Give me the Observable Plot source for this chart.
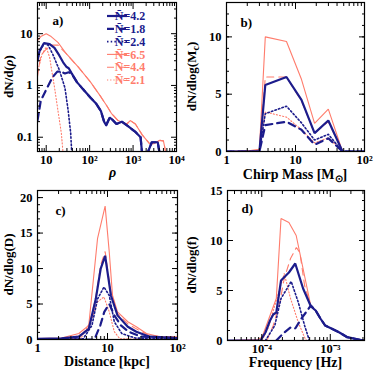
<!DOCTYPE html>
<html><head><meta charset="utf-8">
<script src="https://cdn.jsdelivr.net/npm/d3@7"></script>
<script src="https://cdn.jsdelivr.net/npm/@observablehq/plot@0.6"></script>
<style>
html,body{margin:0;padding:0;background:#fff;}
#fig{position:relative;width:374px;height:371px;background:#fff;}
#fig svg{position:absolute;overflow:visible;}
</style></head><body><div id="fig"></div>
<script>
const BLUE = "#1c1c8c", RED = "#ff7c6c";
const legendLabels = ["N\u0304=4.2","N\u0304=1.8","N\u0304=2.4","N\u0304=6.5","N\u0304=4.4","N\u0304=2.1"];

// Panel a: SNR rho
const rhoBlueSolid = [[6.3,3.0],[7,4.6],[8.9,6.6],[12,6.3],[15.5,5.3],[20,3.8],[24.5,2.8],[29,2.3],[33,2.15],[38,1.75],[51,1.16],[70,0.85],[105,0.58],[140,0.45],[182,0.32],[215,0.2],[240,0.17],[290,0.24],[330,0.22],[415,0.18],[550,0.2],[790,0.16],[1150,0.125],[1490,0.1],[1700,0.03],[2700,0.08],[3700,0.08],[4500,0.03]];
const rhoBlueDashed = [[6.3,0.21],[7.5,0.51],[10.7,0.93],[14,1.45],[18,1.85],[22,1.85],[27,1.7],[33,1.8],[38,1.7],[51,1.16],[70,0.85],[105,0.58],[140,0.45],[182,0.32],[215,0.2],[240,0.17],[290,0.24],[330,0.22],[415,0.18],[550,0.2],[790,0.16],[1150,0.125],[1490,0.1],[1700,0.03],[2700,0.08],[3700,0.08],[4500,0.03]];
const rhoBlueDotted = [[6.3,3.0],[7,4.5],[9,6.5],[11,6.0],[14,4.1],[20,2.0],[27,0.9],[32,0.33],[36.6,0.12],[40,0.03]];
const rhoRedSolid = [[6.3,7.3],[7.5,8.8],[10,10],[13,8.8],[18.6,6.8],[29,4.1],[55,2.25],[105,1.16],[182,0.6],[250,0.4],[316,0.29],[450,0.21],[600,0.19],[720,0.18],[860,0.21],[1130,0.18],[1640,0.11],[2370,0.076],[3000,0.075],[4100,0.087],[5000,0.085],[6000,0.04]];
const rhoRedDashed = [[6.3,1.5],[7.5,3.8],[10,5.0],[13,6.0],[18.6,6.0],[29,4.1],[55,2.25],[105,1.16],[182,0.6],[250,0.4],[316,0.29],[450,0.21],[600,0.19],[720,0.18],[860,0.21],[1130,0.18],[1640,0.11],[2370,0.076],[3000,0.075],[4100,0.087],[5000,0.085],[6000,0.04]];
const rhoRedDotted = [[6.5,2.0],[8,4.0],[10,5.5],[12,3.5],[13,2.25],[15.5,0.93],[18.6,0.33],[22.3,0.12],[25,0.04]];

// Panel b: chirp mass
const mcBlueSolid = [[1,0],[3,0],[3.65,5.8],[7.4,6.5],[12.2,4.5],[18.9,1.6],[29.9,2.7],[48,0],[100,0]];
const mcBlueDashed = [[1,0],[3,0],[3.65,2.3],[7.4,2.6],[12.2,1.9],[18.9,0.6],[29.9,1.15],[48,0],[100,0]];
const mcBlueDotted = [[1,0],[3,0],[3.65,3.3],[7.4,3.95],[12.2,2.5],[18.9,1.0],[29.9,1.5],[48,0],[100,0]];
const mcRedSolid = [[1,0],[2,0.05],[3,0.2],[3.65,10],[7.4,9.6],[12.2,6.3],[18.9,2.45],[29.9,3.7],[48,0],[100,0]];
const mcRedDashed = [[1,0],[3,0.1],[3.65,6.5],[7.4,6.5],[12.2,4.4],[18.9,1.6],[29.9,2.6],[48,0],[100,0]];
const mcRedDotted = [[1,0],[3,0.1],[3.65,3.45],[7.4,3.0],[12.2,1.9],[18.9,0.75],[29.9,1.2],[48,0],[100,0]];

// Panel c: distance (kpc)
const dBlueSolid = [[1,0.1],[2.2,0.15],[3.9,0.4],[5.4,1.5],[6.8,5.7],[8,10],[9.25,11.8],[11.2,6.2],[13.9,3.4],[19.5,1.8],[25.8,1.1],[40,0.4],[100,0.2]];
const dBlueDashed = [[1,0],[6.5,0],[7.9,2],[9,3.9],[10.6,5],[12.5,3.4],[15.5,2],[20,1.1],[30,0.4],[100,0.2]];
const dBlueDotted = [[1,0],[4.5,0.1],[6,2],[7.2,5.7],[8.9,7.4],[10.6,6.2],[12.5,2.5],[16,0.84],[25,0.2],[100,0.1]];
const dRedSolid = [[1,0.14],[2.2,0.2],[3.9,0.84],[5.4,2.0],[7.2,14.2],[9.25,18.8],[10.6,12.3],[11.8,6.2],[13.9,3.9],[19.5,2.5],[25.8,1.8],[36,0.84],[56,0.37],[100,0.37]];
const dRedDashed = [[1,0.1],[2.2,0.15],[3.9,0.5],[5.4,1.6],[6.8,6],[8,10.5],[9.25,12.4],[11.2,6.5],[13.9,3.6],[19.5,2.2],[25.8,1.5],[40,0.5],[100,0.3]];
const dRedDotted = [[1,0],[4.2,0.2],[6,2.9],[7.2,5.3],[8.9,6.0],[10.6,3.9],[12.5,1.1],[15,0.1],[100,0]];

// Panel d: frequency (Hz)
const fBlueSolid = [[3.16e-5,0],[9.6e-5,0],[1.13e-4,0.8],[1.32e-4,2],[1.47e-4,2.6],[1.63e-4,2.8],[1.91e-4,6],[2.49e-4,6.8],[3.08e-4,7.7],[4.01e-4,5.2],[5.22e-4,3.4],[6.12e-4,3.0],[7.18e-4,2.2],[8.41e-4,1.5],[1.04e-3,1.2],[1.36e-3,0.8],[1.77e-3,0.33],[2.7e-3,0.07],[3.16e-3,0]];
const fBlueDashed = [[1.63e-4,0],[2.13e-4,0.8],[2.63e-4,1.3],[3.08e-4,1.2],[3.8e-4,2.2],[5.22e-4,3.5],[6.12e-4,3.0],[7.18e-4,2.2],[8.41e-4,1.5],[1.04e-3,1.2],[1.36e-3,0.8],[1.77e-3,0.33],[2.7e-3,0.07],[3.16e-3,0]];
const fBlueDotted = [[1.13e-4,0],[1.55e-4,1.5],[1.91e-4,4.2],[2.69e-4,5.9],[3.42e-4,3.8],[4.22e-4,1.5],[4.95e-4,0]];
const fRedSolid = [[3.16e-5,0],[8.65e-5,0.1],[1.01e-4,0.33],[1.32e-4,2.5],[1.63e-4,4.2],[1.91e-4,12.2],[2.49e-4,11.8],[3.18e-4,10.5],[5.22e-4,3.4],[6.12e-4,3.0],[7.18e-4,2.2],[8.41e-4,1.5],[1.04e-3,1.2],[1.36e-3,0.8],[1.77e-3,0.33],[2.7e-3,0.07],[3.16e-3,0]];
const fRedDashed = [[1.19e-4,0],[1.47e-4,1.5],[1.82e-4,3.7],[2.13e-4,6.2],[2.63e-4,8.2],[3.2e-4,9.3],[3.6e-4,8.8],[4.22e-4,5.5],[5.22e-4,3.4],[6.12e-4,3.0],[7.18e-4,2.2],[8.41e-4,1.5],[1.04e-3,1.2],[1.36e-3,0.8],[1.77e-3,0.33],[2.7e-3,0.07],[3.16e-3,0]];
const fRedDotted = [[1.01e-4,0],[1.25e-4,1.3],[1.55e-4,3.5],[2.13e-4,6.7],[2.63e-4,4.2],[3.42e-4,1.8],[4.22e-4,0.3],[4.5e-4,0]];

const styles = [
  {stroke: BLUE, width: 2.2, dash: null},
  {stroke: BLUE, width: 2.2, dash: "7,5"},
  {stroke: BLUE, width: 1.6, dash: "1.5,2.2"},
  {stroke: RED, width: 1.1, dash: null},
  {stroke: RED, width: 1.1, dash: "7,5"},
  {stroke: RED, width: 1.1, dash: "1.2,2"}
];

const FONT = "Liberation Serif";
const sup = {"-":"\u207B","0":"\u2070","1":"\u00B9","2":"\u00B2","3":"\u00B3","4":"\u2074"};
const powFmt = d => { const e = Math.round(Math.log10(d)); return e === 1 && d === 10 ? "10" : "10" + String(e).split("").map(c => sup[c]).join(""); };
const logMinor = dom => d3.scaleLog().domain(dom).ticks().filter(t => Math.abs(Math.log10(t) - Math.round(Math.log10(t))) > 1e-6);

function makePanel(c) {
  const order = [3,4,5,0,1,2];
  const lines = order.map(i => Plot.line(c.series[i], {x: d => d[0], y: d => d[1], stroke: styles[i].stroke, strokeWidth: styles[i].width, strokeDasharray: styles[i].dash, strokeLinejoin: "miter", clip: true}));
  const ax = (k, anchor, ticks, size, fmt) => (k === "x" ? Plot.axisX : Plot.axisY)(ticks, {anchor, tickSize: -size, tickPadding: size + (k === "x" ? 4 : 5), tickFormat: fmt || (() => ""), label: null, strokeWidth: 1, fontSize: 12.5, fontWeight: "bold"});
  const svg = Plot.plot({
    width: c.width, height: c.height,
    marginLeft: c.m[0], marginRight: c.m[1], marginTop: c.m[2], marginBottom: c.m[3],
    x: {type: c.xType, domain: c.xDomain},
    y: {type: c.yType, domain: c.yDomain},
    style: {fontFamily: FONT, fontSize: "12.5px", background: "transparent", color: "black", overflow: "visible"},
    marks: [
      ...lines,
      ax("x","bottom", c.xTicks, 6, c.xFmt), ax("x","bottom", c.xMinor, 3), ax("x","top", c.xTicks, 6), ax("x","top", c.xMinor, 3),
      ax("y","left", c.yTicks, 6, c.yFmt), ax("y","left", c.yMinor, 3), ax("y","right", c.yTicks, 6), ax("y","right", c.yMinor, 3),
      Plot.frame({stroke: "black", strokeWidth: 1.2}),
      Plot.text([c.tag], {text: d => d, frameAnchor: "top-left", dx: c.tagPos[0], dy: c.tagPos[1], textAnchor: "start", lineAnchor: "middle", fontSize: 13, fontWeight: "bold"})
    ]
  });
  svg.style.left = c.left + "px"; svg.style.top = c.top + "px";
  const s = d3.select(svg);
  const pw = c.width - c.m[0] - c.m[1], ph = c.height - c.m[2] - c.m[3];
  const xl = s.append("text").attr("x", c.m[0] + pw / 2 + (c.xLabelDx || 0)).attr("y", c.height - c.m[3] + c.xLabelDy)
    .attr("text-anchor", "middle").attr("font-family", FONT).attr("font-size", 14).attr("font-weight", "bold");
  c.xLabel.forEach(p => xl.append("tspan").text(p.t).attr("dy", p.dy || 0).attr("font-size", p.fs || null).attr("font-style", p.it ? "italic" : null));
  const yl = s.append("text").attr("transform", `translate(${c.yLabelX},${c.m[2] + ph / 2}) rotate(-90)`)
    .attr("text-anchor", "middle").attr("font-family", FONT).attr("font-size", 13).attr("font-weight", "bold");
  c.yLabel.forEach(p => yl.append("tspan").text(p.t).attr("dy", p.dy || 0).attr("font-size", p.fs || null).attr("font-style", p.it ? "italic" : null));
  return svg;
}

const fig = document.getElementById("fig");
const W = 187;
const rhoDom = [6.3, 1e4], mcDom = [1, 100], dDom = [1, 100], fDom = [3.16e-5, 3.16e-3];

const pa = makePanel({
  series: [rhoBlueSolid, rhoBlueDashed, rhoBlueDotted, rhoRedSolid, rhoRedDashed, rhoRedDotted],
  width: W, height: 185, left: 0, top: 0, m: [37, 11, 2, 34],
  xType: "log", xDomain: rhoDom, xTicks: [10, 100, 1000, 10000], xMinor: logMinor(rhoDom), xFmt: powFmt,
  yType: "log", yDomain: [0.053, 40], yTicks: [0.1, 1, 10], yMinor: logMinor([0.053, 40]), yFmt: d => String(d),
  tag: "a)", tagPos: [15, 18],
  xLabel: [{t: "\u03C1", it: true}], xLabelDy: 26, xLabelDx: 6,
  yLabel: [{t: "dN/d("}, {t: "\u03C1", it: true}, {t: ")"}], yLabelX: 12.5
});
const pb = makePanel({
  series: [mcBlueSolid, mcBlueDashed, mcBlueDotted, mcRedSolid, mcRedDashed, mcRedDotted],
  width: W, height: 185, left: W, top: 0, m: [39, 10, 2, 34],
  xType: "log", xDomain: mcDom, xTicks: [1, 10, 100], xMinor: logMinor(mcDom), xFmt: d => d === 1 ? "1" : powFmt(d),
  yType: "linear", yDomain: [0, 13], yTicks: [0, 5, 10], yMinor: d3.range(0, 14), yFmt: d => String(d),
  tag: "b)", tagPos: [14, 20],
  xLabel: [{t: "Chirp Mass [M"}, {t: "\u2299", dy: 3, fs: 10}, {t: "]", dy: -3}], xLabelDy: 28,
  yLabel: [{t: "dN/dlog(M"}, {t: "c", dy: 3, fs: 10}, {t: ")", dy: -3}], yLabelX: 9
});
const pc = makePanel({
  series: [dBlueSolid, dBlueDashed, dBlueDotted, dRedSolid, dRedDashed, dRedDotted],
  width: W, height: 186, left: 0, top: 185, m: [37, 10, 5, 32],
  xType: "log", xDomain: dDom, xTicks: [1, 10, 100], xMinor: logMinor(dDom), xFmt: d => d === 1 ? "1" : powFmt(d),
  yType: "linear", yDomain: [0, 21], yTicks: [0, 5, 10, 15, 20], yMinor: d3.range(0, 22), yFmt: d => String(d),
  tag: "c)", tagPos: [18, 20],
  xLabel: [{t: "Distance [kpc]"}], xLabelDy: 27,
  yLabel: [{t: "dN/dlog(D)"}], yLabelX: 12.5
});
const pd = makePanel({
  series: [fBlueSolid, fBlueDashed, fBlueDotted, fRedSolid, fRedDashed, fRedDotted],
  width: W, height: 186, left: W, top: 185, m: [40, 10, 5, 31],
  xType: "log", xDomain: fDom, xTicks: [1e-4, 1e-3], xMinor: logMinor(fDom), xFmt: powFmt,
  yType: "linear", yDomain: [0, 15], yTicks: [0, 5, 10, 15], yMinor: d3.range(0, 16), yFmt: d => String(d),
  tag: "d)", tagPos: [14, 18],
  xLabel: [{t: "Frequency [Hz]"}], xLabelDy: 27,
  yLabel: [{t: "dN/dlog(f)"}], yLabelX: 9
});
[pa, pb, pc, pd].forEach(s => fig.appendChild(s));

// legend inside panel a
const lg = d3.select(pa).append("g");
legendLabels.forEach((lab, i) => {
  const y = 16 + i * 12.8, st = styles[i];
  lg.append("line").attr("x1", 107).attr("x2", 127).attr("y1", y).attr("y2", y)
    .attr("stroke", st.stroke).attr("stroke-width", st.width).attr("stroke-dasharray", st.dash);
  lg.append("text").attr("x", 130).attr("y", y).attr("dy", "0.35em").attr("fill", st.stroke)
    .attr("font-family", FONT).attr("font-size", 12).attr("font-weight", "bold").text(lab);
});
</script></body></html>
